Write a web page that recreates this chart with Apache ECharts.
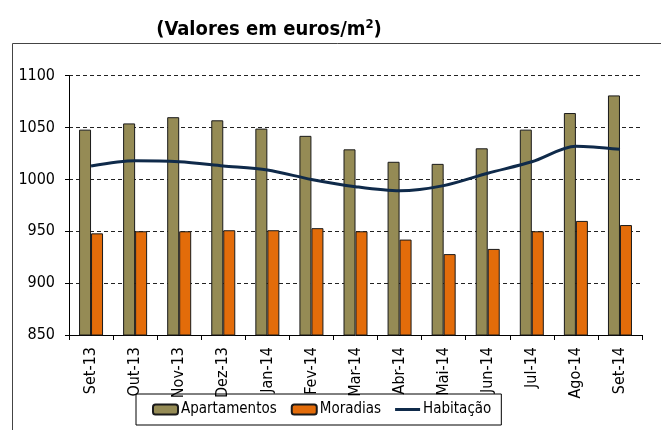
<!DOCTYPE html>
<html><head><meta charset="utf-8">
<script src="https://cdn.jsdelivr.net/npm/echarts@6/dist/echarts.min.js"></script>
<style>html,body{margin:0;padding:0;background:#fff}#c{width:661px;height:430px}</style>
</head><body><div id="c"></div>
<script>
const categories = ['Set-13','Out-13','Nov-13','Dez-13','Jan-14','Fev-14','Mar-14','Abr-14','Mai-14','Jun-14','Jul-14','Ago-14','Set-14'];
const apartamentos = [1048,1054,1060,1057,1049,1042,1029,1017,1015,1030,1048,1064,1081];
const moradias = [948,950,950,951,951,953,950,942,928,933,950,960,956];
const habitacao = [1013,1018,1017,1013,1009,1000,993,989,994,1006,1017,1032,1029];
const yTicks = {min:850, max:1100, interval:50};

const chart = echarts.init(document.getElementById('c'));
const FONT = 'DejaVu Sans';
const CFONT = 'DejaVu Sans Condensed, DejaVu Sans';
chart.setOption({
  animation:false,
  textStyle:{fontFamily:FONT},
  title:{
    text:'(Valores em euros/m{sup|2})',
    left:264, textAlign:'center', top:13,
    textStyle:{fontFamily:CFONT, fontWeight:'bold', fontSize:20, color:'#000',
      rich:{sup:{fontSize:13, fontWeight:'bold', verticalAlign:'top', padding:[0,0,10,0], color:'#000', fontFamily:CFONT}}}
  },
  graphic:[{type:'rect', shape:{x:12.5,y:43.5,width:700,height:500}, style:{fill:'none', stroke:'#444', lineWidth:1}, silent:true}],
  grid:{left:69, right:19, top:75.7, bottom:95},
  legend:{
    bottom:5, left:136,
    itemWidth:25, itemHeight:10, itemGap:14,
    borderColor:'#000', borderWidth:1, padding:[8,10,8,16],
    textStyle:{fontFamily:CFONT, fontSize:15, color:'#000', padding:[0,0,0,-2]},
    data:[{name:'Apartamentos'},{name:'Moradias'},
      {name:'Habitação', icon:'path://M0,0H25V3H0Z', itemStyle:{color:'#0F2A4A', borderWidth:0}}]
  },
  xAxis:{
    type:'category', data:categories,
    axisLine:{lineStyle:{color:'#000', width:1}},
    axisTick:{show:true, alignWithLabel:false, length:5, lineStyle:{color:'#000'}},
    axisLabel:{rotate:90, fontFamily:CFONT, fontSize:16, color:'#000', margin:12}
  },
  yAxis:{
    type:'value', min:yTicks.min, max:yTicks.max, interval:yTicks.interval,
    axisLine:{show:true, lineStyle:{color:'#000'}},
    axisTick:{show:true, length:4, lineStyle:{color:'#000'}},
    axisLabel:{fontFamily:CFONT, fontSize:16, color:'#000', margin:14, formatter:v=>String(v)},
    splitLine:{lineStyle:{color:'#222', type:[4,3], width:1}}
  },
  series:[
    {name:'Apartamentos', type:'bar', data:apartamentos, barWidth:12, barGap:'0%',
      itemStyle:{color:'#958B55', borderColor:'#1a1a1a', borderWidth:1}},
    {name:'Moradias', type:'bar', data:moradias, barWidth:12,
      itemStyle:{color:'#E36C0A', borderColor:'#1a1a1a', borderWidth:1}},
    {name:'Habitação', type:'line', data:habitacao, smooth:0.3, symbol:'none',
      lineStyle:{color:'#0F2A4A', width:3}, itemStyle:{color:'#0F2A4A'}}
  ]
});
</script></body></html>
